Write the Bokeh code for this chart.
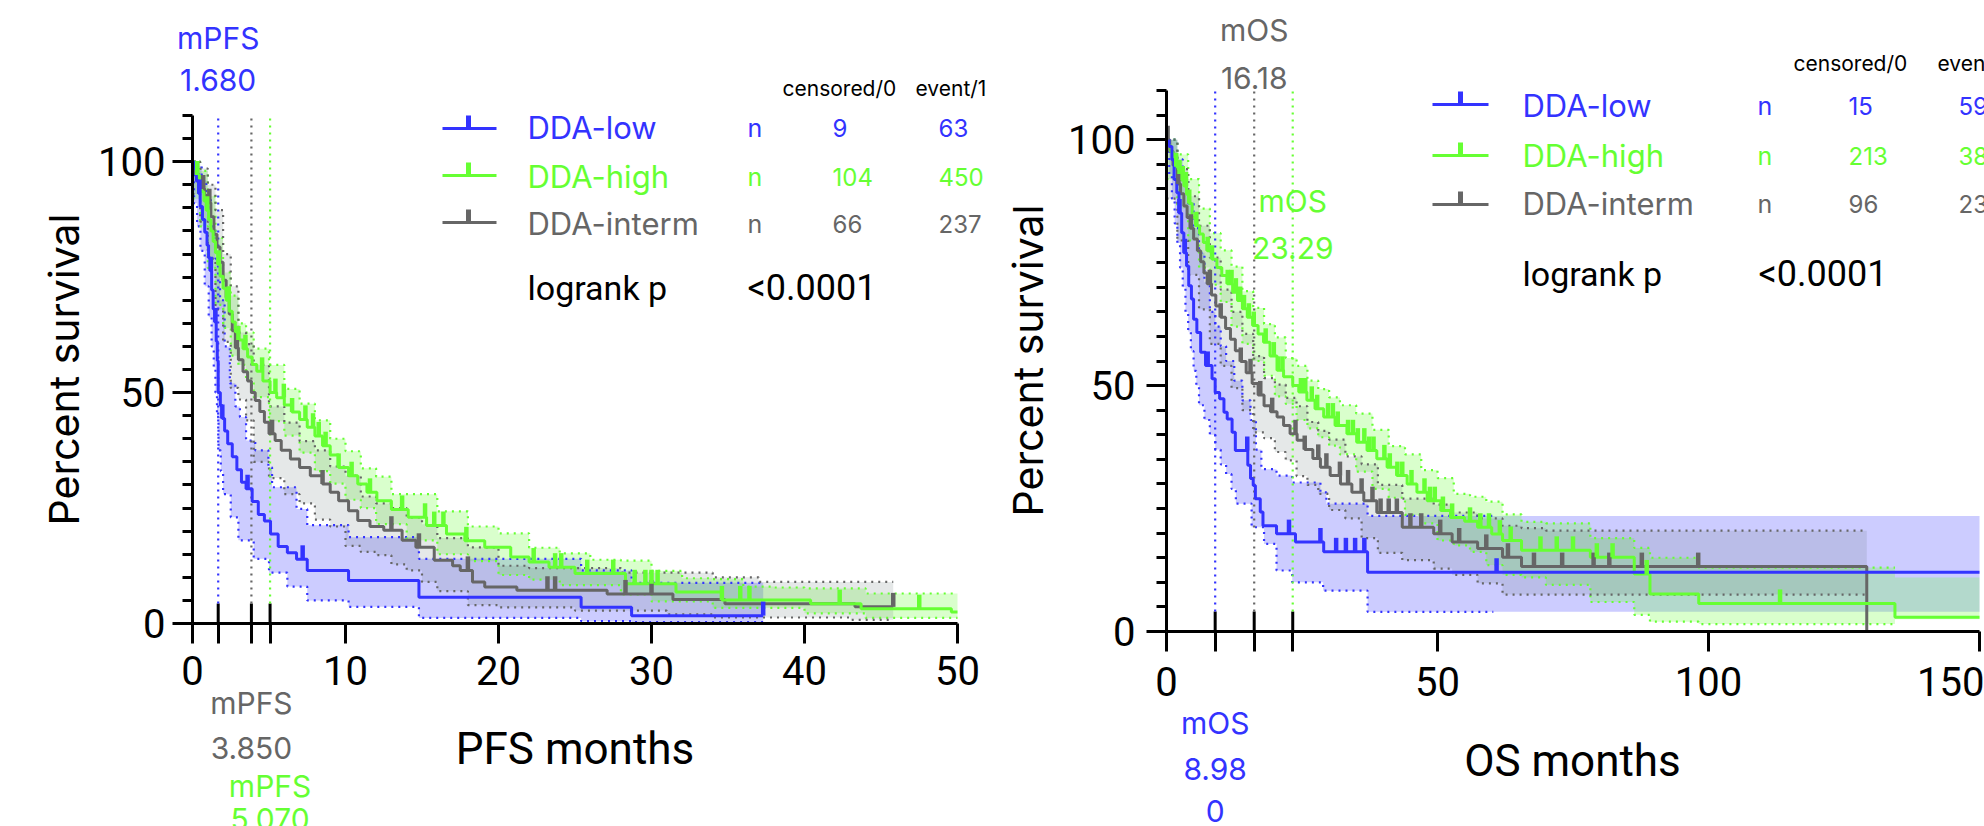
import bisect
import math
from bokeh.plotting import figure
from bokeh.models import Range1d, FixedTicker, CustomJSTickFormatter, Label
from bokeh.layouts import row
from bokeh.embed import file_html
from bokeh.resources import INLINE

BLUE = "#3333ff"
GREEN = "#66ff33"
GRAY = "#666666"
BAND_GRAY = "#5f7373"

groups = ["DDA-low", "DDA-high", "DDA-interm"]
colors = [BLUE, GREEN, GRAY]
fills = [(BLUE, 0.25), (GREEN, 0.25), (BAND_GRAY, 0.16)]

# ---------------- PFS (left panel) ----------------
pfs_medians = [1.68, 5.07, 3.85]          # low, high, interm
pfs_censored = [9, 104, 66]
pfs_events = [63, 450, 237]

pfs_low_t = [0, 0.1, 0.25, 0.4, 0.5, 0.65, 0.8, 0.95, 1.05, 1.15, 1.25, 1.35, 1.45, 1.55, 1.62, 1.68, 1.82, 1.95,
             2.1, 2.3, 2.6, 2.9, 3.2, 3.5, 3.9, 4.3, 4.7, 5.1, 5.6, 6.2, 6.8, 7.5, 10.2, 14.8, 25.4, 28.7]
pfs_low_s = [100, 98.6, 95.8, 93.1, 90.3, 87.5, 84.7, 81.9, 79.2, 76.4, 72.2, 68.1, 65.3, 61.1, 56.9, 50.0, 47.2, 44.4,
             41.7, 38.9, 36.1, 33.3, 30.6, 29.2, 26.4, 23.6, 22.2, 19.4, 16.7, 15.3, 13.9, 11.5, 9.3, 5.7, 3.5, 1.7]
pfs_low_end = 37.3
pfs_low_cens = [0.45, 1.2, 1.5, 1.95, 3.6, 7.2, 37.3]
pfs_low_up_t = [0, 0.3, 0.6, 0.9, 1.2, 1.5, 1.8, 2.1, 2.44, 2.8, 3.1, 3.5, 4.1, 4.96, 5.2, 6.8, 7.5, 10.2, 14.8, 25.4, 28.7]
pfs_low_up = [100, 99, 96, 92, 86, 79, 70, 60, 52, 47, 44.7, 39.6, 37.5, 33.8, 29.5, 24.8, 21.3, 18.7, 14.0, 11.5, 8.8]
pfs_low_lo_t = [0, 0.1, 0.3, 0.52, 0.8, 1.06, 1.25, 1.39, 1.5, 1.6, 1.7, 1.85, 2.0, 2.5, 3.0, 4.0, 5.0, 6.2, 7.5, 10.2,
                14.8, 25.4, 28.7]
pfs_low_lo = [100, 91, 86, 80.7, 73, 66.3, 60, 55.5, 50, 44.7, 37.5, 33, 28, 23, 18, 14, 11, 8, 5, 3.6, 1.2, 0.5, 0.3]

pfs_high_t = [0, 0.15, 0.3, 0.45, 0.6, 0.75, 0.9, 1.05, 1.2, 1.35, 1.5, 1.65, 1.8, 2.0, 2.2, 2.4, 2.6, 2.8, 3.0, 3.3,
              3.6, 3.9, 4.2, 4.6, 5.07, 5.5, 6.0, 6.5, 7.0, 7.5, 8.0, 8.5, 9.0, 9.55, 10.2, 10.8, 11.4, 12.05, 13.0,
              14.1, 15.3, 16.6, 17.8, 19.1, 20.8, 22.0, 23.3, 25.0, 28.3, 31.6, 34.6, 40.4, 43.7, 49.6]
pfs_high_s = [100, 98.7, 97.1, 95.3, 93.5, 91.5, 89.5, 87.4, 85.0, 82.7, 80.3, 77.8, 75.2, 72.6, 70.0, 67.6, 65.3, 63.2,
              61.4, 59.5, 57.7, 56.1, 54.6, 52.5, 50.0, 48.9, 47.3, 45.8, 44.2, 42.5, 40.6, 38.5, 36.5, 33.8, 32.0,
              30.2, 28.4, 26.6, 24.7, 23.0, 21.2, 19.4, 17.9, 16.5, 14.4, 13.3, 12.2, 10.8, 8.6, 6.8, 5.1, 4.3, 3.2, 2.5]
pfs_high_end = 50.0
pfs_high_cens = [0.31, 0.96, 1.72, 2.37, 3.0, 3.46, 4.55, 5.42, 5.97, 6.51, 7.38, 7.88, 8.25, 8.7, 9.55, 10.4, 11.6,
                 13.7, 15.2, 15.8, 16.4, 17.9, 22.3, 23.7, 24.1, 25.8, 27.5, 28.9, 29.6, 30.0, 30.4, 34.6, 35.8, 36.4,
                 42.3, 47.5]
pfs_high_band_t = [0, 0.5, 1.0, 1.5, 2.0, 2.5, 3.0, 3.5, 4.0, 5.0, 6.0, 7.0, 8.0, 9.0, 10.0, 11.0, 12.0, 13.0, 14.0,
                   16.0, 18.0, 20.0, 22.0, 24.0, 26.0, 28.0, 30.0, 32.0, 34.0, 36.0, 38.0, 40.0, 44.0]
pfs_high_up = [100, 98, 92.5, 83.5, 76, 71, 65, 63, 59.5, 56, 50.8, 47.6, 44, 40, 37.3, 33.6, 31.8, 28, 28, 24.3, 21,
               19.5, 16.4, 15.2, 13.8, 13.6, 11.4, 9.8, 9.6, 8, 7.8, 7.6, 6.5]
pfs_high_lo = [92, 86, 77, 69, 64, 58, 56, 52.6, 49, 43.8, 40.7, 37, 33, 30.3, 26.8, 25, 21.5, 21.5, 18, 15, 13.5,
               10.5, 9.5, 8.3, 8.3, 6.3, 4.8, 4.8, 3.4, 3.4, 3.4, 2.2, 1.2]

pfs_int_t = [0, 0.2, 0.4, 0.6, 0.8, 1.0, 1.2, 1.4, 1.6, 1.8, 2.0, 2.2, 2.4, 2.6, 2.8, 3.0, 3.3, 3.6, 3.85, 4.1, 4.4,
             4.7, 5.0, 5.4, 5.8, 6.4, 7.0, 7.7, 8.5, 9.0, 9.55, 10.2, 10.8, 11.6, 12.5, 13.7, 14.6, 15.8, 17.0, 17.5,
             18.3, 19.1, 21.2, 27.1, 31.4, 34.8, 43.3]
pfs_int_s = [100, 97.4, 95.7, 94.1, 92.7, 91.1, 88.1, 84.3, 81.5, 78.2, 74.3, 70.6, 67.0, 63.4, 59.7, 57.1, 54.5, 52.5,
             50.0, 48.3, 45.9, 43.6, 41.1, 39.6, 37.5, 35.6, 33.8, 32.0, 30.2, 28.4, 26.6, 24.4, 22.3, 21.0, 20.2,
             18.0, 16.5, 13.7, 12.5, 11.5, 9.0, 7.9, 7.2, 6.4, 5.2, 4.3, 3.6]
pfs_int_end = 45.8
pfs_int_cens = [0.7, 1.1, 2.9, 5.2, 8.5, 13.0, 14.8, 18.0, 23.2, 23.7, 28.3, 30.0, 45.8]
pfs_int_band_t = [0, 0.5, 1.0, 1.5, 2.0, 2.5, 3.0, 3.5, 4.0, 5.0, 6.0, 7.0, 8.0, 9.0, 10.0, 11.0, 12.0, 13.0, 14.0,
                  15.0, 16.0, 18.0, 20.0, 22.0, 25.0, 28.0, 31.0, 34.0, 37.0, 40.0, 43.0]
pfs_int_up = [100, 98.5, 95, 89.5, 80, 73, 63, 60.5, 56, 47, 43.5, 39.5, 37.5, 34, 32, 27.5, 26, 25, 23, 21.5, 18.5,
              16.5, 12.5, 12, 12, 11, 11, 10, 9, 9, 9]
pfs_int_lo = [93, 87, 79, 68, 61, 51, 48.5, 44, 35, 31.5, 28, 26, 22.5, 21, 16.8, 15.5, 14.8, 12.8, 11.5, 9, 7, 4,
              3.5, 3.5, 2.8, 2.8, 2, 1.3, 1.3, 1.3, 0.8]

# ---------------- OS (right panel) ----------------
os_medians = [8.98, 23.29, 16.18]
os_censored = [15, 213, 96]
os_events = [59, 38, 23]

os_low_t = [0, 0.5, 1.0, 1.4, 1.9, 2.3, 2.8, 3.2, 3.7, 4.1, 4.6, 5.0, 5.6, 6.3, 7.2, 8.4, 8.98, 9.8, 10.6, 11.2,
            12.1, 12.7, 15.0, 15.5, 16.0, 16.4, 17.3, 17.8, 20.3, 23.8, 29.0, 37.1]
os_low_s = [100, 98.6, 95.9, 91.9, 89.2, 85.1, 81.1, 77.0, 74.3, 70.3, 67.6, 63.5, 60.8, 56.8, 54.1, 51.4, 48.6, 47.3,
            44.6, 43.2, 40.5, 36.8, 33.8, 31.1, 29.7, 27.0, 24.3, 21.5, 19.9, 18.2, 16.2, 12.05]
os_low_end = 150
os_low_cens = [2.4, 3.4, 7.6, 14.9, 22.6, 28.4, 31.3, 33.1, 34.8, 36.5, 60.9]
os_low_up_t = [0, 1, 2, 3, 4, 5, 6, 7, 8, 9, 10, 11, 12.5, 14, 15.5, 16.5, 17.5, 20.3, 23.2, 28.4, 29.5, 37.1]
os_low_up = [100, 100, 96, 92, 87, 82, 77, 71, 65, 62, 58, 55, 51, 47, 43, 37, 33, 31.7, 30.3, 28.3, 26, 23.5]
os_low_lo_t = [0, 0.5, 1, 1.5, 2, 2.5, 3, 3.5, 4, 4.5, 5, 5.5, 6, 7, 8, 9, 10, 11, 12, 12.8, 15.7, 18, 20.3, 23.2,
               28.9, 37.1]
os_low_lo = [100, 93, 88, 83, 79, 74, 70, 65, 61, 57, 53, 50, 46, 43, 40, 37, 34, 32, 29, 26, 21.2, 17.8, 12.4, 10.0,
             8.3, 4.0]

os_high_t = [0, 0.4, 0.8, 1.2, 1.7, 2.2, 2.7, 3.2, 3.7, 4.2, 4.74, 5.4, 6.1, 6.8, 7.5, 8.4, 9.3, 10.2, 11.2, 12.2,
             13.1, 14.0, 14.9, 15.9, 16.9, 17.9, 19.1, 20.4, 21.6, 23.29, 24.4, 25.9, 27.4, 29.0, 31.1, 33.3, 35.1,
             37.0, 38.8, 40.7, 42.5, 44.4, 46.2, 48.1, 50.6, 52.4, 55.0, 57.4, 60.0, 62.0, 65.5, 78.2, 86.3, 89.2,
             98.2, 134.4]
os_high_s = [100, 98.8, 97.5, 96.0, 94.5, 93.0, 91.8, 90.6, 88.9, 87.0, 84.2, 82.5, 80.8, 79.1, 77.4, 75.7, 74.0, 72.4,
             70.7, 69.0, 67.3, 65.6, 63.9, 62.2, 60.5, 58.8, 56.0, 53.1, 51.8, 50.0, 48.7, 47.0, 45.3, 43.6, 41.9,
             40.2, 38.5, 36.8, 35.1, 33.4, 31.7, 30.0, 28.3, 26.6, 24.6, 23.2, 22.4, 21.2, 19.8, 18.5, 16.5, 15.1,
             11.7, 7.6, 5.7, 2.9]
os_high_end = 150
os_high_cens = [1.8, 2.4, 3.0, 3.6, 4.2, 5.5, 7.6, 8.4, 11.3, 12.0, 12.8, 13.6, 14.3, 15.2, 16.1, 18.3, 19.8, 20.6,
                21.4, 24.8, 25.6, 26.8, 27.8, 29.8, 30.7, 31.6, 33.5, 34.4, 35.3, 36.5, 37.4, 38.2, 40.2, 41.2, 42.6,
                43.5, 45.2, 47.6, 48.6, 49.5, 51.0, 52.7, 56.0, 57.9, 59.5, 61.5, 63.5, 69.0, 72.0, 75.0, 79.4, 82.3,
                88.6, 113.2]
os_high_band_t = [0, 2, 4, 6, 8, 10, 12, 14, 16, 18, 20, 22, 24, 26, 28, 30, 32, 35, 38, 41, 44, 47, 50, 53, 56, 59,
                  62, 65.5, 70, 78.2, 86.3, 89.2, 98.2, 134.4]
os_high_up = [100, 97, 92, 86, 81, 77.5, 74.2, 69.2, 65.8, 62.5, 59.8, 55.6, 54, 51, 49.3, 47.6, 46, 44.3, 41, 37.7,
              36, 32.8, 31.2, 28, 27.4, 26.4, 23.8, 22.3, 22, 19, 17, 15, 13, 11]
os_high_lo = [92, 86, 79.5, 74, 70.5, 67, 62, 58.5, 55, 52, 47.8, 46.3, 43, 41.3, 39.5, 37.8, 36, 32.5, 29, 27.2,
              23.7, 22, 18.5, 17.5, 16.2, 13.5, 11.5, 11, 9.5, 6.0, 3.4, 2.0, 1.5, 2.5]

os_int_t = [0, 0.6, 1.2, 2.0, 2.6, 3.2, 3.8, 4.4, 5.0, 5.7, 6.3, 6.9, 7.5, 8.3, 9.1, 10.0, 10.9, 11.8, 12.7, 13.7,
            14.7, 15.8, 16.9, 18.0, 19.2, 20.4, 21.6, 22.8, 24.1, 25.5, 27.0, 28.4, 30.2, 32.1, 34.2, 36.4, 38.8,
            43.5, 49.3, 52.7, 57.4, 62.0, 65.5, 129.2]
os_int_s = [100, 97.6, 94.8, 91.0, 89.0, 86.5, 84.2, 82.0, 79.8, 77.4, 75.2, 72.9, 70.7, 68.4, 66.2, 63.9, 61.6, 59.4,
            57.1, 54.9, 52.6, 50.4, 48.1, 45.9, 44.7, 43.6, 41.9, 40.2, 38.9, 37.0, 35.2, 33.4, 31.7, 30.0, 28.3,
            26.6, 24.2, 21.2, 19.9, 18.2, 16.9, 15.1, 13.2, 0]
os_int_end = 129.2
os_int_cens = [0.2, 2.2, 4.5, 8.0, 10.0, 13.7, 15.5, 17.3, 19.5, 23.8, 25.5, 28.0, 29.5, 32.0, 33.5, 36.0, 38.0,
               39.5, 41.0, 42.5, 45.0, 47.0, 50.5, 54.0, 59.0, 63.0, 67.8, 73.0, 78.8, 81.7, 87.7, 98.1]
os_int_band_t = [0, 2, 4, 6, 8, 10, 12, 14, 16, 18, 20, 22, 24, 26, 28, 30, 33, 36, 39, 43.5, 49.3, 52.7, 57.4, 62,
                 65.5, 70, 85, 98.1]
os_int_up = [100, 94, 88.5, 82.5, 76, 69.5, 65, 60.5, 56, 51.5, 50.2, 47.5, 45.8, 42.6, 40.8, 39, 35.6, 34, 29.8, 27,
             25.8, 24.2, 23, 21.5, 21, 20.5, 20.5, 20.5]
os_int_lo = [88, 79.5, 72.5, 65.5, 58.5, 54, 49.5, 45, 40.5, 39.3, 36.5, 34.8, 31.6, 29.8, 28, 24.7, 23, 19, 16, 14.5,
             12.8, 11.5, 9.8, 7.5, 7.5, 7.5, 7.5, 7.5]

y_major = [0, 50, 100]
y_minor = [5, 10, 15, 20, 25, 30, 35, 40, 45, 55, 60, 65, 70, 75, 80, 85, 90, 95, 105, 110]
pfs_xticks = [0, 10, 20, 30, 40, 50]
os_xticks = [0, 50, 100, 150]

H = 826


def step_at(ts, vs, x):
    i = bisect.bisect_right(ts, x + 1e-9) - 1
    return vs[max(i, 0)]


def expand(grid, vals, end):
    xs, ys = [], []
    for i, t0 in enumerate(grid):
        t1 = grid[i + 1] if i + 1 < len(grid) else end
        if t1 <= t0:
            continue
        xs += [t0, t1]
        ys += [vals[i], vals[i]]
    return xs, ys


def make_fig(W, page_x0, X0, pxu, Y0, pyu, xend, ticks, medians, mod, xt_so, yt_so):
    # frame covers whole canvas; axes drawn at data 0 (fixed_location)
    x_min = -(X0 - page_x0) / pxu
    x_max = x_min + W / pxu
    y_max = Y0 / pyu
    y_min = y_max - H / pyu
    p = figure(width=W, height=H, x_range=Range1d(x_min, x_max), y_range=Range1d(y_min, y_max),
               output_backend="svg", toolbar_location=None,
               min_border_left=0, min_border_right=0, min_border_top=0, min_border_bottom=0)
    p.outline_line_color = None
    p.grid.visible = False
    p.background_fill_color = "white"
    p.border_fill_color = "white"
    ax = p.xaxis[0]
    ax.ticker = FixedTicker(ticks=sorted(ticks + medians))
    ax.formatter = CustomJSTickFormatter(
        code="return (Math.abs(tick/%d - Math.round(tick/%d)) < 1e-6) ? tick.toFixed(0) : '';" % (mod, mod))
    ay = p.yaxis[0]
    ay.ticker = FixedTicker(ticks=y_major, minor_ticks=y_minor)
    for a in (ax, ay):
        a.fixed_location = 0
        a.axis_line_width = 3
        a.axis_line_color = "black"
        a.major_tick_line_width = 3
        a.major_tick_line_color = "black"
        a.major_tick_out = 20
        a.major_tick_in = 0
        a.minor_tick_in = 0
        a.major_label_text_font = "Roboto"
        a.major_label_text_font_size = "40px"
        a.major_label_text_color = "black"
    ax.bounds = (0, xend)
    ay.bounds = (0, 110)
    ax.minor_tick_line_color = None
    ay.minor_tick_out = 10
    ay.minor_tick_line_width = 3
    ay.minor_tick_line_color = "black"
    ax.major_label_standoff = xt_so
    ay.major_label_standoff = yt_so
    return p


def add_label(p, x, y, text, color, size, font="Inter", align="left", angle=0.0):
    p.add_layout(Label(x=x, y=y, text=text, text_color=color, text_font=font, angle=angle,
                       text_font_size="%dpx" % size, text_align=align, text_baseline="middle"))


def draw_panel(p, series, medians, fx, fy, px_unit_y, leg):
    tick_h = 14 / px_unit_y
    in_h = 20 / px_unit_y
    for (t, s, end, cens, ut, uv, lt, lv, dend, fend), (fc, fa) in zip(series, fills):
        grid = sorted(set(ut) | set(lt))
        up = [step_at(ut, uv, g) for g in grid]
        lo = [step_at(lt, lv, g) for g in grid]
        xs, y2 = expand(grid, up, fend)
        _, y1 = expand(grid, lo, fend)
        p.varea(x=xs, y1=y1, y2=y2, fill_color=fc, fill_alpha=fa)
    for (t, s, end, cens, ut, uv, lt, lv, dend, fend), col in zip(series, colors):
        for bt, bv in ((ut, uv), (lt, lv)):
            xs = [v for v in bt if v < dend]
            ys = bv[:len(xs)]
            p.step(x=xs + [dend], y=ys + [ys[-1]], mode="after", line_color=col,
                   line_width=2.2, line_dash="2 5")
    for m, col in zip(medians, colors):
        p.segment(x0=[m], y0=[0], x1=[m], y1=[in_h], line_color="black", line_width=3)
        p.segment(x0=[m], y0=[in_h], x1=[m], y1=[110], line_color=col, line_width=2.2, line_dash="2 5")
    order = [2, 1, 0]
    for k in order:
        t, s, end, cens = series[k][:4]
        p.step(x=t + [end], y=s + [s[-1]], mode="after", line_color=colors[k], line_width=3)
    for k in order:
        t, s, end, cens = series[k][:4]
        ys = [step_at(t, s, c) for c in cens]
        p.segment(x0=cens, y0=ys, x1=cens, y1=[y + tick_h for y in ys], line_color=colors[k], line_width=4.5)
    (lx0, lx1, ltx, line_ys, tx, text_ys, nx, c1x, c2x, hdr_y, hdr1x, hdr2x, lr_y, pvx,
     cens_n, ev_n) = leg
    for i in range(3):
        col = colors[i]
        y = fy(line_ys[i])
        p.segment(x0=[fx(lx0)], y0=[y], x1=[fx(lx1)], y1=[y], line_color=col, line_width=3)
        p.segment(x0=[fx(ltx)], y0=[y], x1=[fx(ltx)], y1=[y + 13 / px_unit_y], line_color=col, line_width=5)
        add_label(p, fx(tx), fy(text_ys[i]), groups[i], col, 31)
        add_label(p, fx(nx), fy(text_ys[i]), "n", col, 25)
        add_label(p, fx(c1x), fy(text_ys[i]), str(cens_n[i]), col, 24)
        add_label(p, fx(c2x), fy(text_ys[i]), str(ev_n[i]), col, 24)
    add_label(p, fx(hdr1x), fy(hdr_y), "censored/0", "black", 21)
    add_label(p, fx(hdr2x), fy(hdr_y), "event/1", "black", 21)
    add_label(p, fx(tx), fy(lr_y), "logrank p", "black", 34, font="Roboto")
    add_label(p, fx(pvx), fy(lr_y), "<0.0001", "black", 36, font="Roboto")


# ---- left panel (page px geometry, page origin at 0,0) ----
L_x0, L_pxu, L_y0 = 192, 765 / 50, 623
L_pyu = 508 / 110
fxL = lambda X: (X - L_x0) / L_pxu
fyL = lambda Y: (L_y0 - Y) / L_pyu

pL = make_fig(1000, 0, L_x0, L_pxu, L_y0, L_pyu, 50, pfs_xticks, pfs_medians, 10, 12, 7)
pfs_series = [
    (pfs_low_t, pfs_low_s, pfs_low_end, pfs_low_cens, pfs_low_up_t, pfs_low_up, pfs_low_lo_t, pfs_low_lo,
     pfs_low_end, pfs_low_end),
    (pfs_high_t, pfs_high_s, pfs_high_end, pfs_high_cens, pfs_high_band_t, pfs_high_up, pfs_high_band_t,
     pfs_high_lo, pfs_high_end, pfs_high_end),
    (pfs_int_t, pfs_int_s, pfs_int_end, pfs_int_cens, pfs_int_band_t, pfs_int_up, pfs_int_band_t, pfs_int_lo,
     pfs_int_end, pfs_int_end),
]
legL = (442, 496, 468, [128, 175, 222], 527, [127, 176, 223], 747, 832, 938, 88, 782, 915, 287,
        747, pfs_censored, pfs_events)
draw_panel(pL, pfs_series, pfs_medians, fxL, fyL, L_pyu, legL)
add_label(pL, fxL(63), fyL(369), "Percent survival", "black", 41, align="center", angle=math.pi / 2)
add_label(pL, fxL(574.5), fyL(748), "PFS months", "black", 44, font="Roboto", align="center")
add_label(pL, pfs_medians[0], fyL(37), "mPFS", BLUE, 30, align="center")
add_label(pL, pfs_medians[0], fyL(79), "%.3f" % pfs_medians[0], BLUE, 30, align="center")
add_label(pL, pfs_medians[2], fyL(702), "mPFS", GRAY, 30, align="center")
add_label(pL, pfs_medians[2], fyL(747), "%.3f" % pfs_medians[2], GRAY, 30, align="center")
add_label(pL, pfs_medians[1], fyL(785), "mPFS", GREEN, 30, align="center")
add_label(pL, pfs_medians[1], fyL(818), "%.3f" % pfs_medians[1], GREEN, 30, align="center")

# ---- right panel ----
R_x0, R_pxu, R_y0 = 1166, 813 / 150, 631
R_pyu = 541 / 110
fxR = lambda X: (X - R_x0) / R_pxu
fyR = lambda Y: (R_y0 - Y) / R_pyu

pR = make_fig(984, 1000, R_x0, R_pxu, R_y0, R_pyu, 150, os_xticks, os_medians, 50, 15, 11)
os_series = [
    (os_low_t, os_low_s, os_low_end, os_low_cens, os_low_up_t, os_low_up, os_low_lo_t, os_low_lo, 60.3, os_low_end),
    (os_high_t, os_high_s, os_high_end, os_high_cens, os_high_band_t, os_high_up, os_high_band_t, os_high_lo,
     134.4, os_high_end),
    (os_int_t, os_int_s, os_int_end, os_int_cens, os_int_band_t, os_int_up, os_int_band_t, os_int_lo,
     os_int_end, os_int_end),
]
legR = (1432, 1488, 1460, [104, 155, 204], 1522, [105, 155, 203], 1757, 1848, 1958, 63, 1793, 1937, 273,
        1758, os_censored, os_events)
draw_panel(pR, os_series, os_medians, fxR, fyR, R_pyu, legR)
add_label(pR, fxR(1027), fyR(360), "Percent survival", "black", 41, align="center", angle=math.pi / 2)
add_label(pR, fxR(1572), fyR(760), "OS months", "black", 44, font="Roboto", align="center")
add_label(pR, os_medians[2], fyR(29), "mOS", GRAY, 30, align="center")
add_label(pR, os_medians[2], fyR(77), "16.18", GRAY, 30, align="center")
add_label(pR, os_medians[1], fyR(200), "mOS", GREEN, 30, align="center")
add_label(pR, os_medians[1], fyR(247), "23.29", GREEN, 30, align="center")
add_label(pR, os_medians[0], fyR(722), "mOS", BLUE, 30, align="center")
add_label(pR, os_medians[0], fyR(768), "8.98", BLUE, 30, align="center")
add_label(pR, os_medians[0], fyR(810), "0", BLUE, 30, align="center")

layout = row(pL, pR)
open("out.html", "w").write(file_html(layout, INLINE))
